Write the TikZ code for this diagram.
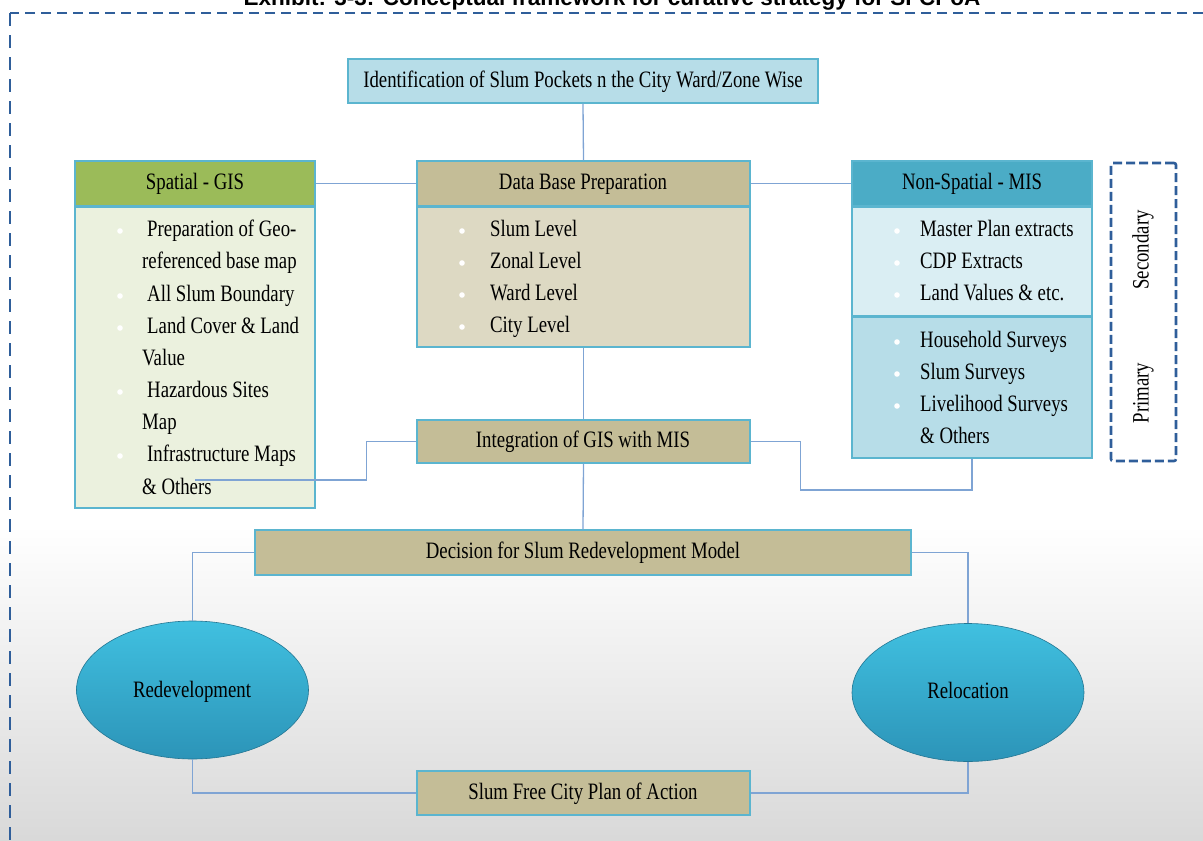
\documentclass[tikz,border=0pt]{standalone}
\usepackage{fontspec}
\setmainfont{Liberation Serif}
\newfontfamily\tnr[FakeStretch=0.8]{Liberation Serif}
\newfontfamily\arialb{Liberation Sans}
\usetikzlibrary{shapes.geometric}

\definecolor{frameblue}{HTML}{2F5E9A}
\definecolor{linkblue}{HTML}{7FA4D4}
\definecolor{edgeaqua}{HTML}{5BB5CF}
\definecolor{aqualight}{HTML}{B7DDE8}
\definecolor{aquapale}{HTML}{DAEEF3}
\definecolor{aquadark}{HTML}{4BACC6}
\definecolor{olivegreen}{HTML}{9BBB59}
\definecolor{greenpale}{HTML}{EBF1DE}
\definecolor{tan}{HTML}{C4BD97}
\definecolor{tanpale}{HTML}{DDD9C3}
\definecolor{ballTop}{HTML}{40C0E0}
\definecolor{ballBot}{HTML}{2C94B8}

\tikzset{
  x=1pt, y=-1pt,
  box/.style={draw=edgeaqua, line width=1.2pt, inner sep=0pt},
  txt/.style={font=\tnr\fontsize{23.5}{26}\selectfont, inner sep=0pt,
              text height=16pt, text depth=5pt},
  item/.style={txt, anchor=west},
  link/.style={draw=linkblue, line width=1.3pt},
  dot/.style={fill=white},
  ball/.style={ellipse, draw=ballBot!80!black, line width=0.6pt,
               top color=ballTop, bottom color=ballBot,
               minimum width=232pt, minimum height=138pt, inner sep=0pt}
}

\begin{document}
\begin{tikzpicture}
\useasboundingbox (0,0) rectangle (1203,841);

% soft grey backdrop in the lower part of the page
\shade[top color=white, bottom color=black!15] (0,525) rectangle (1203,841);

% caption, partly cut by the page edge
\node[anchor=base, font=\arialb\bfseries\fontsize{22.5}{25}\selectfont, inner sep=0pt]
  (caption) at (612,5) {Exhibit: 3-3: Conceptual framework for curative strategy for SFCPoA};

% outer dashed frame (top and left sides)
\draw[frameblue, line width=1.8pt, dash pattern=on 10pt off 6pt] (1203,13) -- (10,13);
\draw[frameblue, line width=1.8pt, dash pattern=on 13pt off 9pt] (10,13) -- (10,841);

% ---------- boxes ----------
\node[box, fill=aqualight, minimum width=470pt, minimum height=44pt] (ident) at (583,81) {};
\node[txt] (identT) at (583,82) {Identification of Slum Pockets n the City Ward/Zone Wise};

\node[box, fill=olivegreen, minimum width=240pt, minimum height=45pt] (gisH) at (195,183.5) {};
\node[txt] (gisHT) at (195,184) {Spatial - GIS};
\node[box, fill=greenpale, minimum width=240pt, minimum height=301pt] (gisB) at (195,357.5) {};

\node[box, fill=tan, minimum width=333pt, minimum height=45pt] (dbH) at (583.5,183.5) {};
\node[txt] (dbHT) at (583,184) {Data Base Preparation};
\node[box, fill=tanpale, minimum width=333pt, minimum height=140pt] (dbB) at (583.5,277) {};

\node[box, fill=aquadark, minimum width=240pt, minimum height=45pt] (misH) at (972,183.5) {};
\node[txt] (misHT) at (972,184) {Non-Spatial - MIS};
\node[box, fill=aquapale, minimum width=240pt, minimum height=109pt] (misS) at (972,261.5) {};
\node[box, fill=aqualight, minimum width=240pt, minimum height=141pt] (misP) at (972,387.5) {};

\node[draw=frameblue, line width=2.6pt, dash pattern=on 9pt off 4pt, rounded corners=2pt,
      minimum width=65pt, minimum height=298pt] (kind) at (1143.5,312) {};
\node[txt, rotate=90] (kindS) at (1143,250) {Secondary};
\node[txt, rotate=90] (kindP) at (1143,393) {Primary};

\node[box, fill=tan, minimum width=333pt, minimum height=43pt] (integ) at (583.5,441.5) {};
\node[txt] (integT) at (583,442) {Integration of GIS with MIS};

\node[box, fill=tan, minimum width=656pt, minimum height=45pt] (decide) at (583,552.5) {};
\node[txt] (decideT) at (583,553) {Decision for Slum Redevelopment Model};

\node[ball] (redev) at (192.5,690) {};
\node[txt] (redevT) at (192,692) {Redevelopment};
\node[ball] (reloc) at (968,692.5) {};
\node[txt] (relocT) at (968,693) {Relocation};

\node[box, fill=tan, minimum width=333pt, minimum height=44pt] (plan) at (583.5,793) {};
\node[txt] (planT) at (583,794) {Slum Free City Plan of Action};

% ---------- list entries ----------
\foreach \y in {231,296,328,392,456} \fill[dot] (120,\y) circle (2.8pt);
\node[item] (g1) at (147,231) {Preparation of Geo-};
\node[item] (g2) at (142,263) {referenced base map};
\node[item] (g3) at (147,296) {All Slum Boundary};
\node[item] (g4) at (147,328) {Land Cover \& Land};
\node[item] (g5) at (142,360) {Value};
\node[item] (g6) at (147,392) {Hazardous Sites};
\node[item] (g7) at (142,424) {Map};
\node[item] (g8) at (147,456) {Infrastructure Maps};
\node[item] (g9) at (142,489) {\& Others};

\foreach \y in {231,263,295,327} \fill[dot] (462,\y) circle (2.8pt);
\node[item] (d1) at (490,231) {Slum Level};
\node[item] (d2) at (490,263) {Zonal Level};
\node[item] (d3) at (490,295) {Ward Level};
\node[item] (d4) at (490,327) {City Level};

\foreach \y in {231,263,295,342,374,406} \fill[dot] (897,\y) circle (2.8pt);
\node[item] (m1) at (920,231) {Master Plan extracts};
\node[item] (m2) at (920,263) {CDP Extracts};
\node[item] (m3) at (920,295) {Land Values \& etc.};
\node[item] (m4) at (920,342) {Household Surveys};
\node[item] (m5) at (920,374) {Slum Surveys};
\node[item] (m6) at (920,406) {Livelihood Surveys};
\node[item] (m7) at (920,438) {\& Others};

% ---------- connectors ----------
\draw[link] (ident.south) -- (dbH.north);
\draw[link] (gisH.east) -- (dbH.west);
\draw[link] (dbH.east) -- (misH.west);
\draw[link] (dbB.south) -- (integ.north);
\coordinate (gisEnd) at (195,480);
\draw[link] (integ.west) -- ++(-50,0) |- (gisEnd);
\draw[link] (integ.east) -- ++(50,0) |- (972,490) -- (misP.south);
\draw[link] (integ.south) -- (decide.north);
\draw[link] (decide.west) -| (redev.north);
\draw[link] (decide.east) -| (reloc.north);
\draw[link] (redev.south) |- (plan.west);
\draw[link] (reloc.south) |- (plan.east);
\end{tikzpicture}
\end{document}
